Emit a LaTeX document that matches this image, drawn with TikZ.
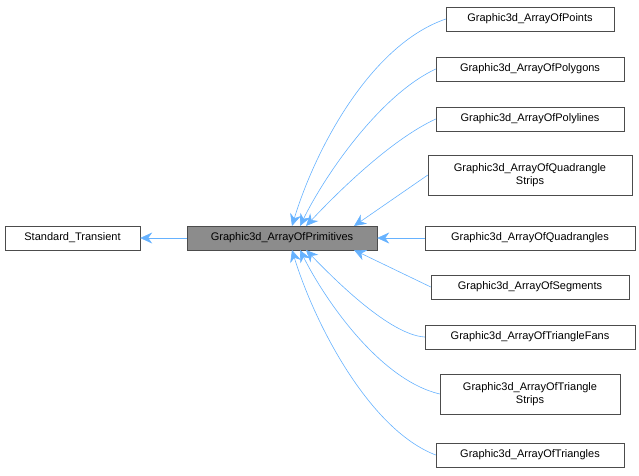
\documentclass[tikz,border=0pt]{standalone}
\usepackage{fontspec}
\setmainfont{Liberation Sans}
\usetikzlibrary{arrows.meta}
\begin{document}
\begin{tikzpicture}[x=1pt,y=-1pt,
 box/.style={draw=black!70,fill=white,inner sep=0pt,font=\fontsize{11}{13}\selectfont,align=center},
 e/.style={draw=blue!50!cyan!60,line width=0.6pt,-{Stealth[length=12pt,width=11pt]}}]
\useasboundingbox (0,0) rectangle (639,475);
\node[box,minimum width=135,minimum height=24] (st) at (72.5,238) {Standard\_Transient};
\node[box,fill=black!45,minimum width=190,minimum height=24] (pr) at (282,238) {Graphic3d\_ArrayOfPrimitives};
\node[box,minimum width=168,minimum height=24] (n1) at (530,19) {Graphic3d\_ArrayOfPoints};
\node[box,minimum width=188,minimum height=24] (n2) at (530,69) {Graphic3d\_ArrayOfPolygons};
\node[box,minimum width=188,minimum height=24] (n3) at (530,119) {Graphic3d\_ArrayOfPolylines};
\node[box,minimum width=204,minimum height=40] (n4) at (530,175) {Graphic3d\_ArrayOfQuadrangle\\Strips};
\node[box,minimum width=210,minimum height=24] (n5) at (530,238) {Graphic3d\_ArrayOfQuadrangles};
\node[box,minimum width=198,minimum height=24] (n6) at (530,287) {Graphic3d\_ArrayOfSegments};
\node[box,minimum width=210,minimum height=24] (n7) at (530,337) {Graphic3d\_ArrayOfTriangleFans};
\node[box,minimum width=180,minimum height=40] (n8) at (530,394) {Graphic3d\_ArrayOfTriangle\\Strips};
\node[box,minimum width=188,minimum height=24] (n9) at (530,455) {Graphic3d\_ArrayOfTriangles};
\coordinate (t1) at (292,226); \coordinate (t2) at (300,226); \coordinate (t3) at (306,226); \coordinate (t4) at (354,226);
\coordinate (b6) at (354,250); \coordinate (b7) at (306,250); \coordinate (b8) at (300,250); \coordinate (b9) at (292,250);
\draw[e] (pr) -- (st);
\draw[e] (n1.west) .. controls (370,45) and (315,150) .. (t1);
\draw[e] (n2.west) .. controls (380,95) and (325,175) .. (t2);
\draw[e] (n3.west) .. controls (390,140) and (335,195) .. (t3);
\draw[e] (n4.west) -- (t4);
\draw[e] (n5) -- (pr);
\draw[e] (n6.west) -- (b6);
\draw[e] (n7.west) .. controls (390,335) and (335,280) .. (b7);
\draw[e] (n8.west) .. controls (380,380) and (325,300) .. (b8);
\draw[e] (n9.west) .. controls (370,430) and (315,325) .. (b9);
\end{tikzpicture}
\end{document}
